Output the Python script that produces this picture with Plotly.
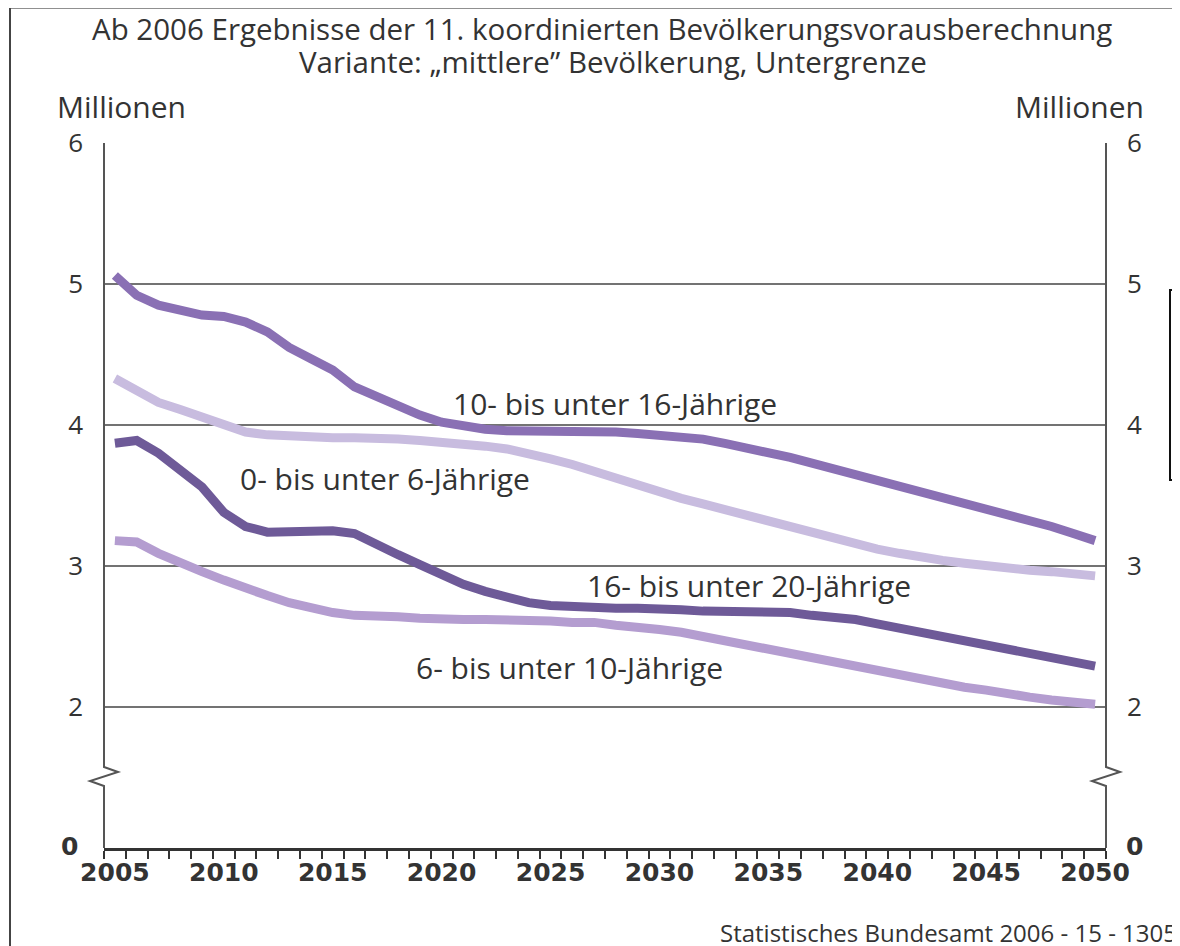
import plotly.graph_objects as go

years = list(range(2005, 2051))

age_10_16 = [5.06, 4.92, 4.85, 4.81, 4.78, 4.77, 4.73, 4.66, 4.55, 4.47,
             4.39, 4.27, 4.20, 4.13, 4.07, 4.02, 3.99, 3.97, 3.96, 3.96,
             3.96, 3.96, 3.95, 3.95, 3.94, 3.93, 3.92, 3.90, 3.87, 3.84,
             3.81, 3.77, 3.73, 3.69, 3.65, 3.61, 3.57, 3.52, 3.49, 3.45,
             3.41, 3.37, 3.32, 3.28, 3.23, 3.18]
age_0_6 = [4.33, 4.24, 4.16, 4.11, 4.06, 4.00, 3.95, 3.93, 3.92, 3.91,
           3.91, 3.91, 3.91, 3.90, 3.89, 3.88, 3.87, 3.85, 3.83, 3.80,
           3.76, 3.72, 3.67, 3.63, 3.58, 3.53, 3.48, 3.44, 3.40, 3.35,
           3.31, 3.27, 3.23, 3.19, 3.15, 3.12, 3.09, 3.06, 3.04, 3.02,
           3.00, 2.98, 2.97, 2.96, 2.94, 2.93]
age_16_20 = [3.87, 3.89, 3.80, 3.68, 3.56, 3.38, 3.28, 3.24, 3.24, 3.25,
             3.25, 3.23, 3.15, 3.08, 3.01, 2.94, 2.87, 2.82, 2.78, 2.74,
             2.72, 2.71, 2.70, 2.70, 2.70, 2.70, 2.69, 2.68, 2.68, 2.68,
             2.67, 2.67, 2.65, 2.64, 2.62, 2.59, 2.56, 2.53, 2.50, 2.47,
             2.45, 2.42, 2.39, 2.36, 2.33, 2.29]
age_6_10 = [3.18, 3.17, 3.09, 3.02, 2.96, 2.90, 2.84, 2.79, 2.74, 2.70,
            2.67, 2.65, 2.65, 2.64, 2.63, 2.62, 2.62, 2.62, 2.62, 2.62,
            2.61, 2.60, 2.60, 2.58, 2.57, 2.55, 2.53, 2.50, 2.47, 2.44,
            2.41, 2.38, 2.35, 2.31, 2.28, 2.25, 2.22, 2.20, 2.17, 2.14,
            2.12, 2.09, 2.07, 2.05, 2.03, 2.02]

x_tick_years = list(range(2005, 2051, 5))
y_tick_vals = [2, 3, 4, 5, 6]
y_tick_text = ["2", "3", "4", "5", "6"]

series = [
    ("10- bis unter 16-Jährige", age_10_16, "#8a70b4", 2027.96, 4.156),
    ("0- bis unter 6-Jährige", age_0_6, "#c8bcdf", 2017.4, 3.62),
    ("16- bis unter 20-Jährige", age_16_20, "#6e5a98", 2034.1, 2.865),
    ("6- bis unter 10-Jährige", age_6_10, "#b49dd0", 2025.85, 2.277),
]

# page body has an 8px margin: design in screen pixels, shift by OFF
OFF = 8
SW, SH = 1180, 946
W, H = SW - OFF, SH - OFF
L, R, T, B = 104, 1106, 143, 848          # plot area in screen pixels
ML, MR, MT, MB = L - OFF, SW - R, T - OFF, SH - B
PW, PH = R - L, B - T

def px(x):
    return (x - L) / PW

def py(y):
    return (B - y) / PH

TXT = "#333333"
FONT = "Open Sans"

fig = go.Figure()
annotations = []
for name, vals, color, lx, ly in series:
    fig.add_trace(go.Scatter(x=years, y=vals, mode="lines", name=name,
                             line=dict(color=color, width=9),
                             showlegend=False, hoverinfo="skip"))
    annotations.append(dict(x=lx, y=ly, xref="x", yref="y", text=name,
                            xanchor="center", yanchor="middle",
                            showarrow=False, font=dict(family=FONT, size=30, color=TXT)))

# invisible trace for right axis
fig.add_trace(go.Scatter(x=[years[0]], y=[age_10_16[0]], yaxis="y2", mode="markers",
                         marker=dict(opacity=0), showlegend=False, hoverinfo="skip"))

def note(xp, yp, text, size, xanchor="center", family=FONT):
    return dict(x=px(xp), y=py(yp), xref="paper", yref="paper", showarrow=False,
                xanchor=xanchor, yanchor="middle", text=text,
                font=dict(family=family, size=size, color=TXT))

annotations += [
    note(602, 28, "Ab 2006 Ergebnisse der 11. koordinierten Bevölkerungsvorausberechnung", 29.5),
    note(613, 62, "Variante: „mittlere” Bevölkerung, Untergrenze", 29.5),
    note(55, 107, "Millionen", 30, "left"),
    note(1146, 107, "Millionen", 30, "right"),
    note(80, 846, "<b>0</b>", 25, "right", "DejaVu Sans"),
    note(1124, 846, "<b>0</b>", 25, "left", "DejaVu Sans"),
    note(718, 932, "Statistisches Bundesamt 2006 - 15 - 1305", 24, "left"),
]

AX = "#555555"
shapes = []
for xa in (L, R):
    pts = [(xa, T), (xa, 767), (xa + 14, 772), (xa - 14, 781), (xa, 786), (xa, B)]
    path = "M " + " L ".join(f"{px(a):.5f},{py(b):.5f}" for a, b in pts)
    shapes.append(dict(type="path", xref="paper", yref="paper", path=path,
                       line=dict(color=AX, width=2)))
# page frame and side box
shapes.append(dict(type="line", xref="paper", yref="paper", x0=px(10), x1=px(1190),
                   y0=py(7), y1=py(7), line=dict(color="#222", width=3)))
shapes.append(dict(type="line", xref="paper", yref="paper", x0=px(10), x1=px(10),
                   y0=py(7), y1=py(960), line=dict(color="#444", width=2)))
shapes.append(dict(type="rect", xref="paper", yref="paper", x0=px(1170), x1=px(1200),
                   y0=py(480), y1=py(290), line=dict(color="#111", width=2)))

fig.update_layout(
    width=W, height=H,
    margin=dict(l=ML, r=MR, t=MT, b=MB, autoexpand=False),
    paper_bgcolor="white", plot_bgcolor="white",
    annotations=annotations, shapes=shapes,
    xaxis=dict(range=[2004.5, 2050.5], tickmode="array", tickvals=x_tick_years,
               ticks="", showgrid=False, zeroline=False, automargin=False,
               showline=True, linecolor="#333", linewidth=3,
               tickfont=dict(family="DejaVu Sans", size=25, color=TXT, weight="bold"),
               minor=dict(tickmode="array", tickvals=[2004.5 + i for i in range(47)],
                          ticks="outside", ticklen=8, tickwidth=2, tickcolor="#333",
                          showgrid=False)),
    yaxis=dict(range=[1, 6], tickmode="array", tickvals=y_tick_vals, ticktext=y_tick_text,
               showgrid=False, zeroline=False, showline=False, ticks="", automargin=False,
               ticklabelstandoff=20,
               tickfont=dict(family=FONT, size=26, color=TXT)),
    yaxis2=dict(range=[1, 6], tickmode="array", tickvals=y_tick_vals, ticktext=y_tick_text,
                overlaying="y", side="right", showgrid=False, zeroline=False,
                showline=False, ticks="", automargin=False, ticklabelstandoff=20,
                tickfont=dict(family=FONT, size=26, color=TXT)),
)
for v in y_tick_vals[:-1]:
    fig.add_hline(y=v, line=dict(color="#444", width=1.5), layer="below")

fig.write_html("out.html")
